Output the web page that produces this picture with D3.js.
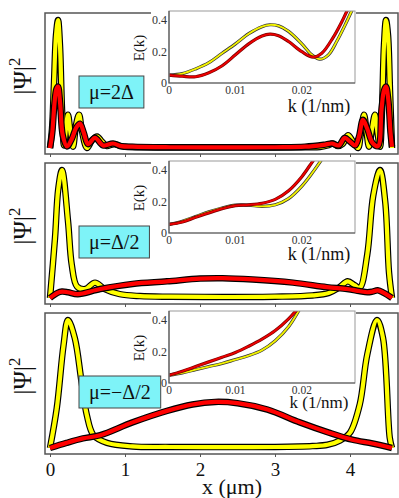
<!DOCTYPE html>
<html>
<head>
<meta charset="utf-8">
<script src="https://cdnjs.cloudflare.com/ajax/libs/d3/7.8.5/d3.min.js"></script>
<style>
  body { margin: 0; background: #fff; }
  text { font-family: "Liberation Serif", "DejaVu Serif", serif; }
</style>
</head>
<body>
<script>
// ---- data ----
const xTicks = [0, 1, 2, 3, 4];
const kTicks = [0, 0.01, 0.02];
const eTicks = [0, 0.2, 0.4];
const muLabels = ['μ=2Δ', 'μ=Δ/2', 'μ=−Δ/2'];

// |Psi|^2 (arbitrary units, yellow peak = 1) vs x in um
const psiYellowA = [[0,0],[0.027,0.15],[0.053,0.5],[0.08,0.88],[0.107,1],[0.133,0.8],[0.16,0.3],[0.187,0.02],
  [0.213,0.15],[0.24,0.26],[0.273,0.12],[0.307,0.01],[0.347,0.18],[0.387,0.26],[0.427,0.13],[0.493,0],
  [0.56,0.06],[0.627,0.09],[0.693,0.05],[0.76,0.015],[0.813,0.025],[0.867,0.03],[0.933,0.015],[1.0,0.01],
  [1.2,0.005],[1.6,0.004],[2.3,0.003],[3.0,0.004],[3.4,0.006],[3.6,0.008],[3.7,0.02],[3.773,0.035],[3.84,0.015],
  [3.9,0.03],[3.973,0.1],[4.04,0.05],[4.107,0],[4.147,0.13],[4.187,0.26],[4.22,0.13],[4.253,0.01],[4.293,0.15],
  [4.333,0.26],[4.367,0.12],[4.4,0.01],[4.427,0.3],[4.453,0.8],[4.48,1],[4.507,0.88],[4.533,0.45],[4.56,0]];
const psiRedA = [[0,0],[0.03,0.12],[0.06,0.35],[0.085,0.46],[0.107,0.48],[0.135,0.35],[0.17,0.1],[0.227,0.012],
  [0.29,0.07],[0.35,0.16],[0.4,0.19],[0.45,0.12],[0.507,0.03],[0.6,0.08],[0.707,0.02],[0.84,0.035],[0.95,0.015],
  [1.1,0.01],[1.6,0.006],[2.3,0.005],[3.0,0.006],[3.4,0.01],[3.65,0.025],[3.76,0.035],[3.85,0.02],[3.93,0.08],
  [4.0,0.05],[4.07,0.02],[4.12,0.09],[4.173,0.22],[4.23,0.15],[4.3,0.04],[4.373,0.015],[4.42,0.3],[4.453,0.45],
  [4.48,0.48],[4.51,0.38],[4.54,0.12],[4.56,0.01]];

const psiYellowB = [[0,0],[0.067,0.47],[0.11,0.85],[0.16,1],[0.24,0.6],[0.29,0.26],[0.36,0.09],[0.47,0.07],
  [0.6,0.12],[0.73,0.07],[0.93,0.03],[1.2,0.015],[1.6,0.01],[2.3,0.008],[3.0,0.01],[3.5,0.02],[3.72,0.04],
  [3.85,0.08],[3.97,0.13],[4.06,0.1],[4.13,0.08],[4.23,0.34],[4.31,0.8],[4.4,1],[4.47,0.75],[4.52,0.2],[4.56,0]];
const psiRedB = [[0,0],[0.1,0.04],[0.16,0.05],[0.24,0.045],[0.37,0.03],[0.67,0.07],[1.1,0.11],[1.56,0.13],
  [2.0,0.152],[2.3,0.155],[2.7,0.145],[3.24,0.12],[3.69,0.085],[3.96,0.07],[4.12,0.055],[4.23,0.045],
  [4.3,0.05],[4.37,0.06],[4.45,0.04],[4.56,0]];

const psiYellowC = [[0,0],[0.09,0.31],[0.18,0.8],[0.24,1],[0.33,0.86],[0.42,0.52],[0.49,0.26],[0.58,0.1],
  [0.76,0.04],[1.1,0.012],[1.6,0.008],[2.3,0.007],[3.0,0.008],[3.5,0.015],[3.7,0.025],[3.87,0.06],[4.0,0.12],
  [4.13,0.34],[4.23,0.73],[4.36,1],[4.44,0.86],[4.53,0.08],[4.56,0]];
const psiRedC = [[0,0],[0.22,0.04],[0.44,0.075],[0.67,0.1],[1.1,0.2],[1.56,0.29],[1.9,0.34],[2.2,0.36],
  [2.5,0.35],[2.9,0.3],[3.33,0.2],[3.72,0.12],[4.03,0.065],[4.3,0.035],[4.56,0]];

// inset dispersions E(k) vs k (1/nm)
const eYellowA = [[0,0.05],[0.002,0.06],[0.004,0.09],[0.006,0.13],[0.008,0.19],[0.01,0.25],[0.012,0.315],
  [0.014,0.36],[0.0152,0.372],[0.0165,0.365],[0.018,0.33],[0.02,0.25],[0.0215,0.18],[0.0227,0.152],[0.024,0.18],
  [0.0253,0.27],[0.0265,0.37],[0.0275,0.46],[0.028,0.5]];
const eRedA = [[0,0.05],[0.002,0.043],[0.004,0.04],[0.006,0.065],[0.008,0.11],[0.01,0.18],[0.012,0.25],
  [0.014,0.3],[0.0152,0.312],[0.0165,0.302],[0.018,0.265],[0.02,0.2],[0.0217,0.165],[0.023,0.19],[0.0247,0.29],
  [0.026,0.39],[0.0268,0.46],[0.028,0.55]];
const eYellowB = [[0,0.055],[0.002,0.075],[0.004,0.105],[0.006,0.135],[0.008,0.16],[0.01,0.178],[0.012,0.178],
  [0.014,0.17],[0.016,0.18],[0.018,0.22],[0.02,0.3],[0.0215,0.38],[0.023,0.47]];
const eRedB = [[0,0.055],[0.002,0.07],[0.004,0.1],[0.006,0.128],[0.008,0.155],[0.01,0.175],[0.012,0.18],
  [0.014,0.19],[0.016,0.215],[0.018,0.27],[0.02,0.36],[0.0215,0.45],[0.022,0.48]];
const eYellowC = [[0,0.05],[0.002,0.065],[0.004,0.085],[0.006,0.105],[0.008,0.125],[0.01,0.15],[0.012,0.175],
  [0.014,0.21],[0.016,0.27],[0.018,0.36],[0.0195,0.46],[0.02,0.5]];
const eRedC = [[0,0.05],[0.002,0.075],[0.004,0.105],[0.006,0.135],[0.008,0.165],[0.01,0.195],[0.012,0.235],
  [0.014,0.28],[0.016,0.335],[0.018,0.41],[0.0195,0.48]];

const psiYellow = [psiYellowA, psiYellowB, psiYellowC];
const psiRed = [psiRedA, psiRedB, psiRedC];
const eYellow = [eYellowA, eYellowB, eYellowC];
const eRed = [eRedA, eRedB, eRedC];

// ---- layout ----
const W = 399, H = 498;
const left = 45, right = 398;
const panelTops = [13, 163, 313], panelH = 141;

let svg = d3.select('body').append('svg').attr('width', W).attr('height', H);

let x = d3.scaleLinear().domain([0, 4]).range([50, 350]);

panelTops.forEach(function(top, i) {
  let g = svg.append('g');
  let y = d3.scaleLinear().domain([0, 1]).range([top + 135, top + 7]);

  // frame
  g.append('rect')
    .attr('x', left).attr('y', top)
    .attr('width', right - left).attr('height', panelH)
    .attr('fill', 'none').attr('stroke', '#555').attr('stroke-width', 1.5);

  // x ticks
  let ax = d3.axisBottom(x).tickValues(xTicks).tickSize(3).tickPadding(6)
    .tickFormat(i == 2 ? d3.format('d') : '');
  let axg = g.append('g').attr('transform', 'translate(0,' + (top + panelH) + ')').call(ax);
  axg.select('.domain').remove();
  axg.selectAll('line').attr('stroke', '#555');
  axg.selectAll('text').attr('font-size', 19).attr('fill', '#111')
    .style('font-family', '"Liberation Serif", serif');

  // wavefunctions
  let line = d3.line().x(d => x(d[0])).y(d => y(d[1])).curve(d3.curveCatmullRom.alpha(0.5));
  [psiYellow[i], psiRed[i]].forEach(function(s, j) {
    g.append('path').datum(s).attr('d', line)
      .attr('fill', 'none').attr('stroke', '#000').attr('stroke-width', 6.5)
      .attr('stroke-linejoin', 'round');
    g.append('path').datum(s).attr('d', line)
      .attr('fill', 'none').attr('stroke', j == 0 ? '#ffff00' : '#ff0000').attr('stroke-width', 4.2)
      .attr('stroke-linejoin', 'round');
  });

  // y label |Psi|^2
  let yl = g.append('text')
    .attr('transform', 'translate(31,' + (top + 63) + ') rotate(-90)')
    .attr('text-anchor', 'middle').attr('font-size', 25).attr('fill', '#111');
  yl.append('tspan').text('|Ψ|');
  yl.append('tspan').attr('dy', -11).attr('font-size', 17).text('2');

  // inset
  let iTop = top - 2, iBot = top + 70, iL = 169, iR = 355;
  let k = d3.scaleLinear().domain([0, 0.028]).range([iL, iR]);
  let e = d3.scaleLinear().domain([0, 0.46]).range([iBot, iTop]);

  g.append('rect').attr('x', 151).attr('y', iTop - 1)
    .attr('width', iR - 151 + 1).attr('height', iBot - iTop + 14).attr('fill', '#fff');

  let clipId = 'clip' + i;
  g.append('clipPath').attr('id', clipId).append('rect')
    .attr('x', iL).attr('y', iTop).attr('width', iR - iL).attr('height', iBot - iTop);

  let eline = d3.line().x(d => k(d[0])).y(d => e(d[1])).curve(d3.curveCatmullRom.alpha(0.5));
  let cg = g.append('g').attr('clip-path', 'url(#' + clipId + ')');
  [eYellow[i], eRed[i]].forEach(function(s, j) {
    cg.append('path').datum(s).attr('d', eline)
      .attr('fill', 'none').attr('stroke', j == 0 ? '#333' : '#7a0000').attr('stroke-width', 3.2);
    cg.append('path').datum(s).attr('d', eline)
      .attr('fill', 'none').attr('stroke', j == 0 ? '#f2f200' : '#ee0000').attr('stroke-width', 1.8);
  });

  g.append('rect').attr('x', iL).attr('y', iTop)
    .attr('width', iR - iL).attr('height', iBot - iTop)
    .attr('fill', 'none').attr('stroke', '#999').attr('stroke-width', 1);
  g.append('path')
    .attr('d', 'M' + iL + ',' + iTop + 'V' + iBot + 'H' + iR)
    .attr('fill', 'none').attr('stroke', '#555').attr('stroke-width', 1.2);

  g.selectAll('.kt').data(kTicks).enter().append('text')
    .attr('x', d => k(d)).attr('y', iBot + 11)
    .attr('text-anchor', 'middle').attr('font-size', 11.5).attr('fill', '#333')
    .text(d => d == 0 ? '0' : d3.format('.2f')(d));
  g.selectAll('.et').data(eTicks).enter().append('text')
    .attr('x', iL - 2).attr('y', d => e(d) + 4)
    .attr('text-anchor', 'end').attr('font-size', 12).attr('fill', '#333')
    .text(d => d == 0 ? '0' : d3.format('.1f')(d));

  g.append('text')
    .attr('transform', 'translate(144,' + (iTop + 37) + ') rotate(-90)')
    .attr('text-anchor', 'middle').attr('font-size', 15).attr('fill', '#111').text('E(k)');
  g.append('text')
    .attr('x', 319).attr('y', iBot + 29 - i * 2)
    .attr('text-anchor', 'middle').attr('font-size', i == 2 ? 17 : 18).attr('fill', '#111').text('k (1/nm)');

  // mu label box
  let box = g.append('rect');
  let lbl = g.append('text').attr('font-size', 20).attr('fill', '#111')
    .attr('text-anchor', 'middle').text(muLabels[i]);
  let tw = lbl.node().getComputedTextLength();
  let bw = tw + 20, bx = 79, by = top + 63;
  box.attr('x', bx).attr('y', by).attr('width', bw).attr('height', 32)
    .attr('fill', '#7ef3f8').attr('stroke', '#444').attr('stroke-width', 1);
  lbl.attr('x', bx + bw / 2).attr('y', by + 23);
});

svg.append('text')
  .attr('x', 232).attr('y', 494)
  .attr('text-anchor', 'middle').attr('font-size', 22).attr('fill', '#111')
  .text('x (μm)');
</script>
</body>
</html>
